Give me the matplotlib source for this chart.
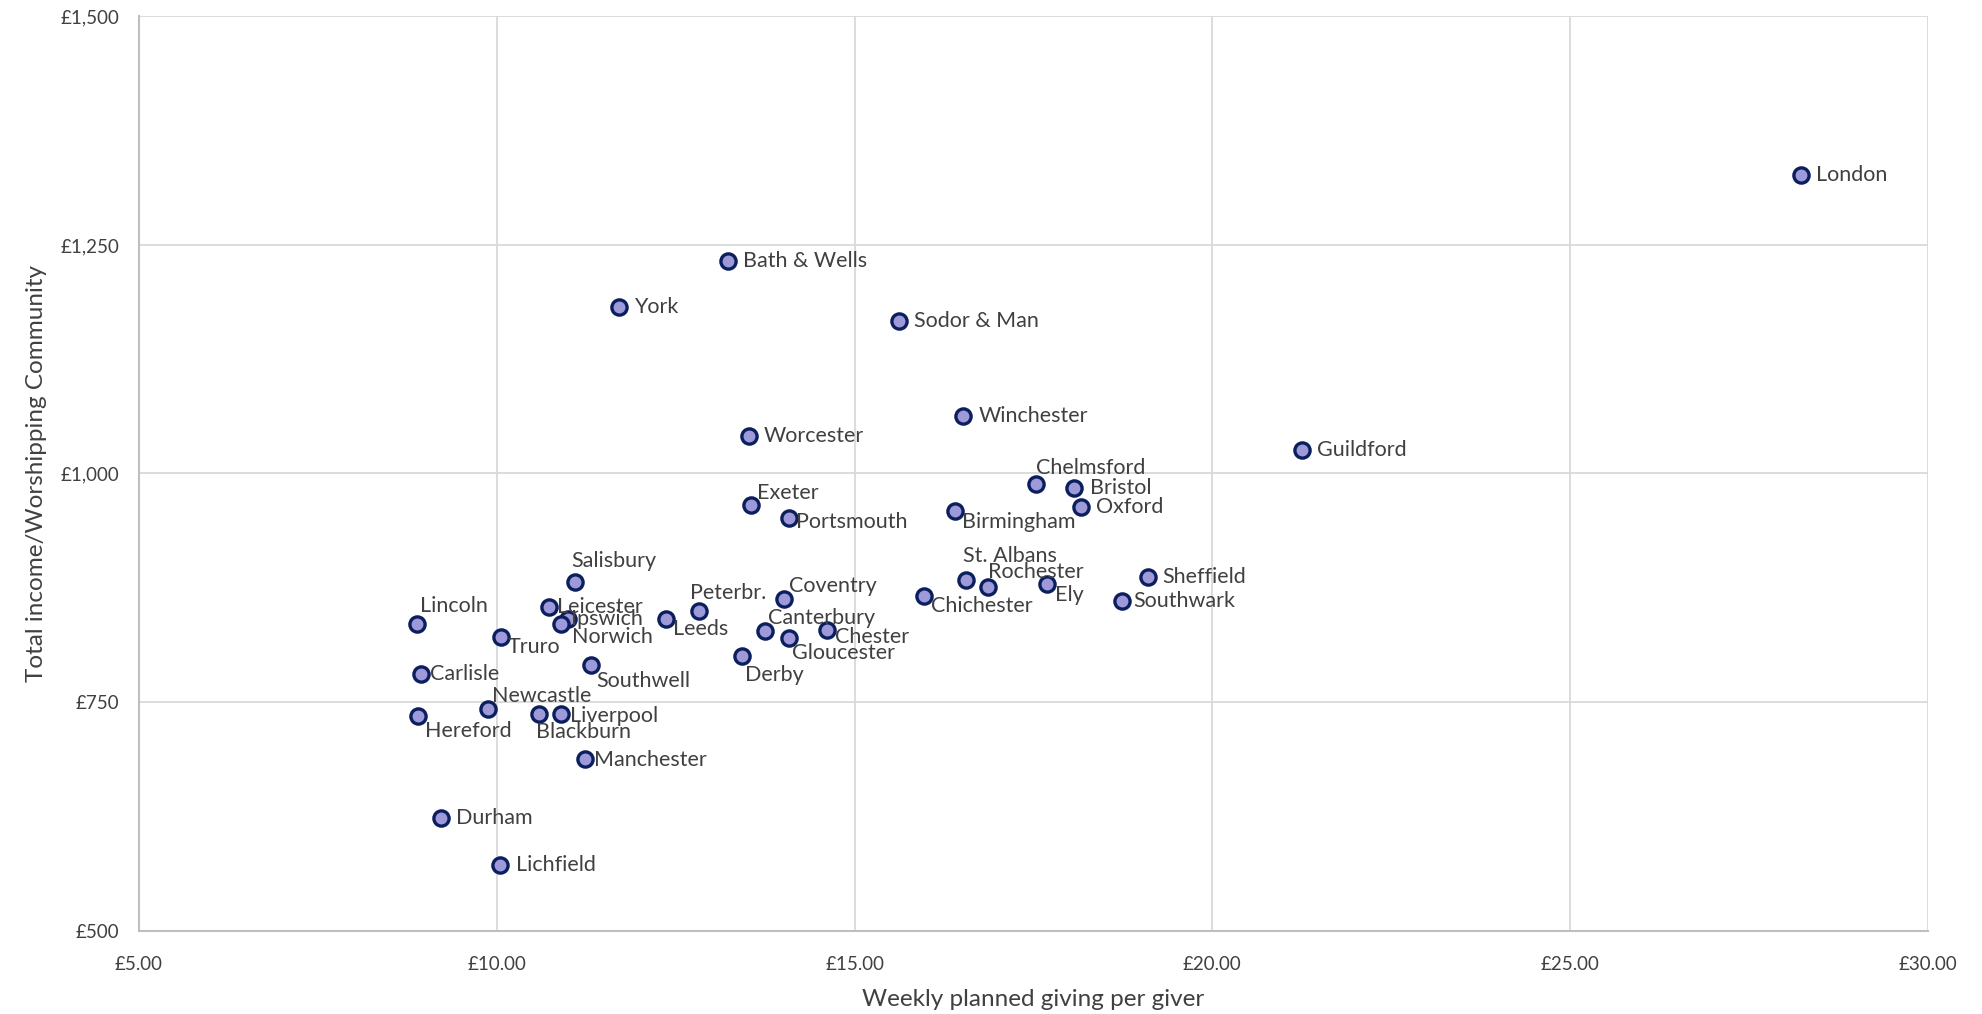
import matplotlib
matplotlib.use("Agg")
import matplotlib.pyplot as plt
from matplotlib.ticker import FuncFormatter

plt.rcParams['font.family'] = ['Lato', 'DejaVu Sans']

dioceses = ["London", "Bath & Wells", "York", "Sodor & Man", "Winchester", "Worcester",
            "Guildford", "Chelmsford", "Bristol", "Oxford", "Exeter", "Portsmouth",
            "Birmingham", "Salisbury", "Sheffield", "St. Albans", "Rochester", "Ely",
            "Chichester", "Southwark", "Coventry", "Peterbr.", "Lincoln", "Leicester",
            "Ipswich", "Norwich", "Leeds", "Truro", "Canterbury", "Chester", "Gloucester",
            "Derby", "Southwell", "Carlisle", "Newcastle", "Hereford", "Blackburn",
            "Liverpool", "Manchester", "Durham", "Lichfield"]
weekly_giving = [28.22, 13.23, 11.71, 15.62, 16.52, 13.52,
                 21.25, 17.54, 18.07, 18.16, 13.55, 14.08,
                 16.40, 11.10, 19.10, 16.55, 16.86, 17.69,
                 15.97, 18.73, 14.02, 12.83, 8.89, 10.73,
                 11.00, 10.90, 12.37, 10.06, 13.75, 14.61, 14.09,
                 13.42, 11.31, 8.94, 9.88, 8.90, 10.59,
                 10.90, 11.23, 9.22, 10.04]
income_per_wc = [1326, 1232, 1182, 1167, 1063, 1041,
                 1026, 988, 984, 963, 966, 951,
                 959, 881, 887, 883, 876, 879,
                 866, 861, 863, 850, 835, 854,
                 841, 835, 841, 821, 828, 829, 820,
                 800, 790, 781, 742, 735, 737,
                 737, 688, 623, 572]

# label offsets (points) relative to marker
R = (11, 0)
offsets = {
    "London": R, "Bath & Wells": R, "York": R, "Sodor & Man": R, "Winchester": R,
    "Worcester": R, "Guildford": R, "Chelmsford": (0, 12), "Bristol": R, "Oxford": R,
    "Exeter": (4.5, 8.5), "Portsmouth": (5, -3), "Birmingham": (5, -7.6),
    "Salisbury": (-3, 15.5), "Sheffield": (10.5, 0), "St. Albans": (-2, 17.5),
    "Rochester": (0, 11), "Ely": (6, -7.7), "Chichester": (5, -7),
    "Southwark": (8.6, 0), "Coventry": (3, 9), "Peterbr.": (-7, 12.5),
    "Lincoln": (2, 13.5), "Leicester": (6, 0), "Ipswich": (2, 0), "Norwich": (8, -9),
    "Leeds": (5, -7), "Truro": (5, -7), "Canterbury": (2, 9), "Chester": (6, -5),
    "Gloucester": (2, -11), "Derby": (2.5, -13.5), "Southwell": (4, -11),
    "Carlisle": (6.5, 0), "Newcastle": (3, 9.5), "Hereford": (5, -11),
    "Blackburn": (-2, -13), "Liverpool": (6.5, -1.5), "Manchester": (6.5, -1),
    "Durham": (11, 0), "Lichfield": (11.5, 0),
}

fig = plt.figure(figsize=(19.82, 10.14), dpi=100)
ax = fig.add_axes([0.0701, 0.0823, 0.9027, 0.9015])

ax.scatter(weekly_giving, income_per_wc, s=120, facecolor="#9E9ADA",
           edgecolor="#0B1F5E", linewidth=2.4, zorder=3)
for name, x, y in zip(dioceses, weekly_giving, income_per_wc):
    ax.annotate(name, (x, y), xytext=offsets[name], textcoords="offset points",
                ha="left", va="center", fontsize=15.5, color="#404040", zorder=4)

ax.set_xlim(5, 30)
ax.set_ylim(500, 1500)
ax.set_xticks([5, 10, 15, 20, 25, 30])
ax.set_yticks([500, 750, 1000, 1250, 1500])
ax.xaxis.set_major_formatter(FuncFormatter(lambda v, p: f"£{v:.2f}"))
ax.yaxis.set_major_formatter(FuncFormatter(lambda v, p: f"£{v:,.0f}"))
ax.grid(True, color="#D9D9D9", linewidth=1.3, zorder=0)
ax.set_axisbelow(True)
for s in ["top", "right"]:
    ax.spines[s].set_visible(False)
for s in ["left", "bottom"]:
    ax.spines[s].set_color("#BFBFBF")
    ax.spines[s].set_linewidth(1.5)
ax.tick_params(length=0, labelsize=13.5, labelcolor="#404040")
ax.tick_params(axis="x", pad=18)
ax.tick_params(axis="y", pad=14)
ax.set_xlabel("Weekly planned giving per giver", fontsize=17.5, color="#404040", labelpad=12)
ax.set_ylabel("Total income/Worshipping Community", fontsize=17.5, color="#404040", labelpad=10)

fig.savefig("out.png", dpi=100)
